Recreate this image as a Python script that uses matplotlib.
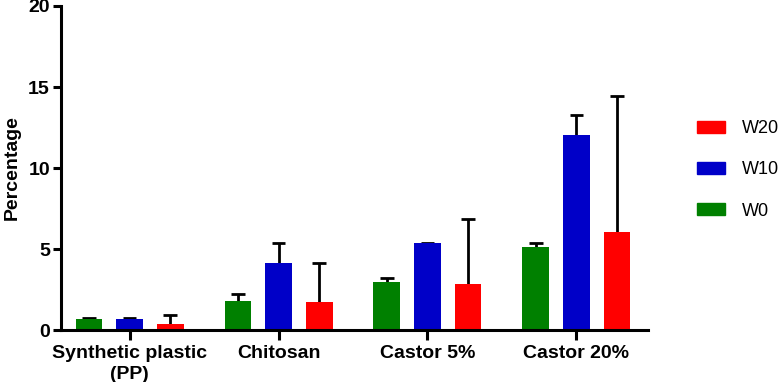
import matplotlib.pyplot as plt
import numpy as np
from matplotlib.patches import Patch

plt.rcParams['font.family'] = ['Liberation Sans', 'DejaVu Sans']

categories = ['Synthetic plastic\n(PP)', 'Chitosan', 'Castor 5%', 'Castor 20%']
series = ['W0', 'W10', 'W20']
colors = ['#008000', '#0000C8', '#FF0000']

# mean values and upper error (SD)
w0 = [0.66, 1.81, 2.98, 5.12]
w0_err = [0.06, 0.41, 0.21, 0.23]
w10 = [0.68, 4.16, 5.35, 12.02]
w10_err = [0.05, 1.19, 0.03, 1.27]
w20 = [0.37, 1.75, 2.82, 6.03]
w20_err = [0.53, 2.41, 4.01, 8.40]

values = [w0, w10, w20]
errors = [w0_err, w10_err, w20_err]

fig = plt.figure(figsize=(7.84, 3.82), dpi=100)
ax = fig.add_axes([0.0778, 0.1361, 0.7487, 0.8482])

x = np.arange(len(categories))
offset = 0.272
width = 0.181
cap = 0.045

for i, (vals, errs, col) in enumerate(zip(values, errors, colors)):
    xs = x + (i - 1) * offset
    vals = np.array(vals)
    errs = np.array(errs)
    ax.vlines(xs, vals, vals + errs, color='black', linewidth=2, zorder=1)
    ax.hlines(vals + errs, xs - cap, xs + cap, color='black', linewidth=2, zorder=1)
    ax.bar(xs, vals, width=width, color=col, zorder=2)

ax.set_xlim(-0.46, 3.48)
ax.set_ylim(0, 20)
ax.set_yticks([0, 5, 10, 15, 20])
ax.set_xticks(x)
ax.set_xticklabels(categories, fontsize=14, fontweight='bold', linespacing=1.25)
for lab in ax.get_yticklabels():
    lab.set_fontsize(14)
    lab.set_fontweight('bold')
ax.set_ylabel('Percentage', fontsize=14, fontweight='bold', labelpad=5)

for s in ['top', 'right']:
    ax.spines[s].set_visible(False)
for s in ['left', 'bottom']:
    ax.spines[s].set_linewidth(2.2)
ax.tick_params(axis='y', width=2.2, length=6, pad=2)
ax.tick_params(axis='x', width=2.2, length=7, pad=4)

handles = [Patch(color=c) for c in colors[::-1]]
fig.legend(handles, series[::-1], loc='upper left',
           bbox_to_anchor=(697 / 784, 1 - 120 / 382), frameon=False,
           fontsize=13, handlelength=1.55, handleheight=0.66,
           handletextpad=0.95, labelspacing=1.35, borderpad=0,
           borderaxespad=0)

fig.savefig('out.png', dpi=100)
